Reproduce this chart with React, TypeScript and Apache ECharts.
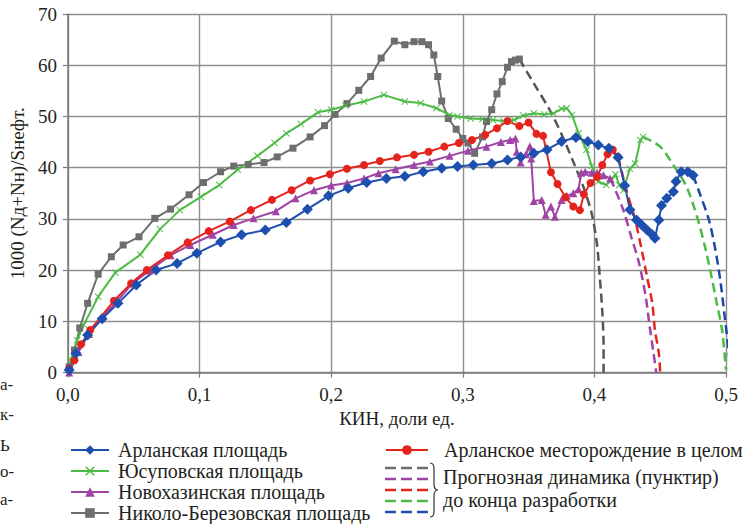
import React, { useEffect, useRef } from 'react';
import * as echarts from 'echarts';

// ---------- data ----------
const xTickLabels = ['0,0', '0,1', '0,2', '0,3', '0,4', '0,5'];
const yTickLabels = ['0', '10', '20', '30', '40', '50', '60', '70'];

const nameArlan = 'Арланская площадь';
const nameYusup = 'Юсуповская площадь';
const nameNovo = 'Новохазинская площадь';
const nameNikolo = 'Николо-Березовская площадь';
const nameField = 'Арланское месторождение в целом';

const arlanData = [
  [0.001, 0.5], [0.006, 3.7], [0.015, 7.3], [0.026, 10.5], [0.038, 13.5], [0.052, 17.1], [0.067, 20],
  [0.083, 21.3], [0.098, 23.3], [0.116, 25.5], [0.132, 26.9], [0.150, 27.8], [0.166, 29.3], [0.182, 31.9],
  [0.198, 34.5], [0.213, 36], [0.227, 37.1], [0.242, 37.9], [0.256, 38.3], [0.270, 39.2], [0.284, 39.9],
  [0.296, 40.2], [0.308, 40.5], [0.322, 40.8], [0.334, 41.5], [0.344, 42.1], [0.354, 42.8], [0.364, 43.5],
  [0.375, 45.1], [0.386, 45.9], [0.395, 45.1], [0.403, 44.4], [0.411, 43.8], [0.418, 42], [0.423, 36.5],
  [0.427, 31.8], [0.432, 29.8], [0.436, 28.8], [0.440, 27.8], [0.444, 26.9], [0.446, 26.2], [0.449, 29.8],
  [0.451, 32.6], [0.455, 34], [0.460, 35.3], [0.462, 37.3], [0.466, 39.2], [0.471, 39.2], [0.475, 38.5],
];
const arlanForecast = [
  [0.475, 38.5], [0.480, 35], [0.487, 29.8], [0.492, 23.9], [0.496, 17.4], [0.499, 10.9], [0.502, 4.4], [0.503, 0],
];

const yusupData = [
  [0.002, 2.4], [0.007, 6.3], [0.012, 9.3], [0.023, 14.8], [0.036, 19.5], [0.055, 23], [0.070, 28],
  [0.085, 31.7], [0.101, 34.3], [0.115, 36.6], [0.129, 39.6], [0.144, 42.3], [0.157, 44.8], [0.166, 46.7],
  [0.177, 48.5], [0.190, 50.8], [0.200, 51.3], [0.211, 52.1], [0.225, 52.9], [0.240, 54.2], [0.256, 52.9],
  [0.268, 52.6], [0.280, 51.6], [0.290, 50.3], [0.296, 50.0], [0.306, 49.6], [0.315, 49.5], [0.323, 49.3],
  [0.331, 49.1], [0.339, 49.3], [0.346, 50.2], [0.354, 50.6], [0.362, 50.4], [0.369, 50.6], [0.375, 51.5],
  [0.379, 51.6], [0.383, 50.3], [0.388, 46.7], [0.394, 43.5], [0.398, 40.3], [0.403, 37.3], [0.409, 36.6],
  [0.413, 37.6], [0.416, 38.7], [0.419, 36.6], [0.422, 35.6], [0.427, 39.8], [0.431, 40.8], [0.435, 45.4],
  [0.437, 46],
];
const yusupForecast = [
  [0.437, 46], [0.450, 44.1], [0.460, 40.5], [0.470, 36.3], [0.478, 30.4], [0.484, 24.6], [0.489, 18.7],
  [0.493, 13.5], [0.497, 8.3], [0.500, 0.5],
];

const novoData = [
  [0.001, 0], [0.008, 4], [0.016, 7.5], [0.025, 10.6], [0.036, 13.5], [0.049, 17.4], [0.062, 19.9],
  [0.078, 22.9], [0.093, 24.9], [0.110, 26.9], [0.126, 28.8], [0.141, 30.1], [0.158, 31.5], [0.173, 34],
  [0.187, 35.6], [0.200, 36.5], [0.212, 37], [0.225, 37.9], [0.236, 38.9], [0.249, 39.7], [0.263, 40.5],
  [0.275, 41.2], [0.290, 42.3], [0.304, 43.3], [0.318, 44.1], [0.329, 45.0], [0.336, 45.4], [0.340, 45.7],
  [0.341, 43.1], [0.344, 41.0], [0.348, 42.6], [0.351, 44.2], [0.352, 41.8], [0.354, 33.5], [0.360, 33.7],
  [0.363, 30.8], [0.367, 32.4], [0.370, 30.4], [0.375, 33.7], [0.379, 34.5], [0.384, 35], [0.388, 35.8],
  [0.390, 39], [0.393, 39.2], [0.398, 39.0], [0.402, 39.0], [0.407, 38.5], [0.412, 37.9],
];
const novoForecast = [
  [0.412, 37.9], [0.416, 35.6], [0.422, 31.7], [0.428, 26.5], [0.434, 21.3], [0.439, 14.8], [0.442, 9],
  [0.445, 3.7], [0.447, 0],
];

const nikoloData = [
  [0.001, 1.1], [0.005, 4.4], [0.009, 8.7], [0.015, 13.5], [0.023, 19.2], [0.033, 22.6], [0.042, 24.9],
  [0.054, 26.5], [0.066, 30.1], [0.078, 31.9], [0.092, 34.7], [0.103, 37.1], [0.116, 39.2], [0.126, 40.3],
  [0.137, 40.6], [0.149, 41], [0.159, 42.1], [0.171, 43.8], [0.184, 46], [0.195, 48.2], [0.203, 50.4],
  [0.212, 52.5], [0.221, 55.1], [0.230, 57.8], [0.238, 61.4], [0.248, 64.7], [0.256, 64], [0.263, 64.6],
  [0.269, 64.6], [0.274, 64], [0.278, 62], [0.281, 57.8], [0.284, 53], [0.289, 49.6], [0.295, 47.5],
  [0.300, 45.7], [0.304, 44.8], [0.309, 42.8], [0.315, 46], [0.318, 49], [0.322, 51.3], [0.326, 54.4],
  [0.330, 56.8], [0.334, 59.6], [0.337, 60.7], [0.340, 61], [0.343, 61.2],
];
const nikoloForecast = [
  [0.343, 61.2], [0.355, 56], [0.366, 51.3], [0.376, 46], [0.385, 40.5], [0.392, 36], [0.398, 31],
  [0.402, 25], [0.404, 19], [0.406, 12], [0.407, 5], [0.407, 0],
];

const fieldData = [
  [0.001, 0.8], [0.005, 2.4], [0.010, 5.5], [0.017, 8.3], [0.035, 14], [0.048, 17.4], [0.060, 20],
  [0.076, 22.9], [0.091, 25.4], [0.107, 27.6], [0.123, 29.5], [0.139, 31.7], [0.155, 33.7], [0.170, 35.6],
  [0.184, 37.5], [0.199, 38.7], [0.212, 39.8], [0.225, 40.5], [0.237, 41.3], [0.250, 42], [0.263, 42.5],
  [0.274, 43.1], [0.286, 44.1], [0.297, 44.8], [0.307, 45.4], [0.317, 46.4], [0.326, 47.7], [0.334, 49.1],
  [0.343, 48.1], [0.350, 48.8], [0.356, 46.6], [0.361, 46.2], [0.367, 39.1], [0.372, 36.8], [0.378, 34.2],
  [0.384, 32.4], [0.389, 31.7], [0.392, 34.8], [0.397, 37], [0.402, 38.2], [0.406, 40.5], [0.410, 42.6],
  [0.414, 43.5], [0.418, 42.1],
];
const fieldForecast = [
  [0.418, 42.1], [0.425, 35], [0.431, 29.8], [0.436, 23.9], [0.440, 18.7], [0.444, 13.5], [0.446, 8.3],
  [0.449, 3.7], [0.450, 0],
];

const forecastNote = ['Прогнозная динамика (пунктир)', 'до конца разработки'];
const marginFragments = ['а-', 'к-', 'Ь', 'о-', 'а-'];
const yAxisTitle = '1000 (Nд+Nн)/Sнефт.';
const xAxisTitle = 'КИН, доли ед.';

// ---------- styles ----------
const FONT = "'Liberation Serif', 'DejaVu Serif', serif";
const TXT = '#231f20';
const C_BLUE = '#1d4fae';
const C_GREEN = '#4cbb45';
const C_PURPLE = '#a043a6';
const C_GRAY = '#6e6e6e';
const C_RED = '#e5231d';
const X_SYMBOL = 'path://M1 0 L5 4 L9 0 L10 1 L6 5 L10 9 L9 10 L5 6 L1 10 L0 9 L4 5 L0 1 Z';

echarts.graphic.registerShape(
  'brace',
  echarts.graphic.extendPath(
    'M0,0 C4,0 4,3 4,8 L4,21 C4,25 5,27 8,27 C5,27 4,29 4,33 L4,46 C4,51 4,54 0,54',
    {}
  )
);

function solid(name: string, data: number[][], color: string, symbol: string, size: number) {
  return {
    name,
    type: 'line',
    data,
    symbol,
    symbolSize: size,
    showSymbol: true,
    itemStyle: { color },
    lineStyle: { color, width: 2 },
    z: 3,
  };
}

function dashed(name: string, data: number[][], color: string) {
  return {
    name,
    type: 'line',
    data,
    showSymbol: false,
    symbol: 'none',
    smooth: 0.3,
    clip: false,
    itemStyle: { color },
    lineStyle: { color, width: 2.5, type: [9, 5] },
    z: 2,
  };
}

export default function App() {
  const ref = useRef<HTMLDivElement>(null);
  useEffect(() => {
    if (!ref.current) return;
    const chart = echarts.init(ref.current, undefined, { renderer: 'svg' });
    const dashColors = [C_GRAY, C_PURPLE, C_RED, C_GREEN, C_BLUE];
    const dashRows = [468, 479, 490, 501, 512];
    const graphic: any[] = [];
    dashColors.forEach((c, i) => {
      graphic.push({
        type: 'line',
        shape: { x1: 385, y1: dashRows[i], x2: 428, y2: dashRows[i] },
        style: { stroke: c, lineWidth: 2.5, lineDash: [11, 5] },
      });
    });
    graphic.push({
      type: 'brace',
      x: 430,
      y: 463,
      style: { stroke: '#333', fill: 'none', lineWidth: 1.2 },
    });
    graphic.push({
      type: 'text', left: 443, top: 467,
      style: { text: forecastNote[0], font: `20px ${FONT}`, fill: TXT },
    });
    graphic.push({
      type: 'text', left: 443, top: 490,
      style: { text: forecastNote[1], font: `20px ${FONT}`, fill: TXT },
    });
    const fragY = [384, 414, 445, 471, 499];
    marginFragments.forEach((t, i) => {
      graphic.push({
        type: 'text', x: 0, y: fragY[i],
        style: { text: t, font: `17px ${FONT}`, fill: TXT, align: 'left', verticalAlign: 'middle' },
      });
    });

    const axisCommon = {
      axisLine: { show: true, lineStyle: { color: '#7a7a7a', width: 1.5 } },
      axisTick: { show: true, length: 5, lineStyle: { color: '#7a7a7a', width: 1.2 } },
      splitLine: { show: true, lineStyle: { color: '#8e8e8e', width: 1.4 } },
    };

    chart.setOption({
      animation: false,
      backgroundColor: '#ffffff',
      textStyle: { fontFamily: FONT },
      grid: { left: 67, right: 28, top: 14, bottom: 151.5, containLabel: false },
      xAxis: {
        type: 'value',
        min: 0,
        max: 0.5,
        interval: 0.1,
        ...axisCommon,
        axisLabel: {
          fontSize: 19, color: TXT, fontFamily: FONT, margin: 12,
          formatter: (v: number) => xTickLabels[Math.round(v * 10)] ?? '',
        },
        name: xAxisTitle,
        nameLocation: 'middle',
        nameGap: 36,
        nameTextStyle: { fontSize: 19, color: TXT, fontFamily: FONT },
      },
      yAxis: {
        type: 'value',
        min: 0,
        max: 70,
        interval: 10,
        ...axisCommon,
        axisLabel: {
          fontSize: 19, color: TXT, fontFamily: FONT, margin: 11,
          formatter: (v: number) => yTickLabels[Math.round(v / 10)] ?? '',
        },
        name: yAxisTitle,
        nameLocation: 'middle',
        nameRotate: 90,
        nameGap: 36,
        nameTextStyle: { fontSize: 19, color: TXT, fontFamily: FONT },
      },
      legend: [
        {
          data: [nameArlan, nameYusup, nameNovo, nameNikolo],
          orient: 'vertical',
          left: 70,
          top: 440,
          itemWidth: 38,
          itemHeight: 12,
          itemGap: 1,
          padding: 0,
          selectedMode: false,
          textStyle: { fontSize: 20, color: TXT, fontFamily: FONT, padding: [0, 0, 0, 4] },
        },
        {
          data: [nameField],
          orient: 'vertical',
          left: 385,
          top: 440,
          itemWidth: 42,
          itemHeight: 12,
          padding: 0,
          selectedMode: false,
          textStyle: { fontSize: 20, color: TXT, fontFamily: FONT, padding: [0, 0, 0, 11] },
        },
      ],
      graphic,
      series: [
        dashed('Прогноз — ' + nameNikolo, nikoloForecast, '#555555'),
        dashed('Прогноз — ' + nameNovo, novoForecast, C_PURPLE),
        dashed('Прогноз — ' + nameField, fieldForecast, C_RED),
        dashed('Прогноз — ' + nameYusup, yusupForecast, C_GREEN),
        dashed('Прогноз — ' + nameArlan, arlanForecast, '#1f45a8'),
        solid(nameNikolo, nikoloData, C_GRAY, 'rect', 7),
        solid(nameYusup, yusupData, C_GREEN, X_SYMBOL, 7),
        solid(nameNovo, novoData, C_PURPLE, 'triangle', 8),
        solid(nameField, fieldData, C_RED, 'circle', 8),
        solid(nameArlan, arlanData, C_BLUE, 'diamond', 11),
      ],
    });
    return () => chart.dispose();
  }, []);
  return (
    <div
      ref={ref}
      style={{ position: 'fixed', left: 0, top: 0, width: 754, height: 524, background: '#fff' }}
    />
  );
}
